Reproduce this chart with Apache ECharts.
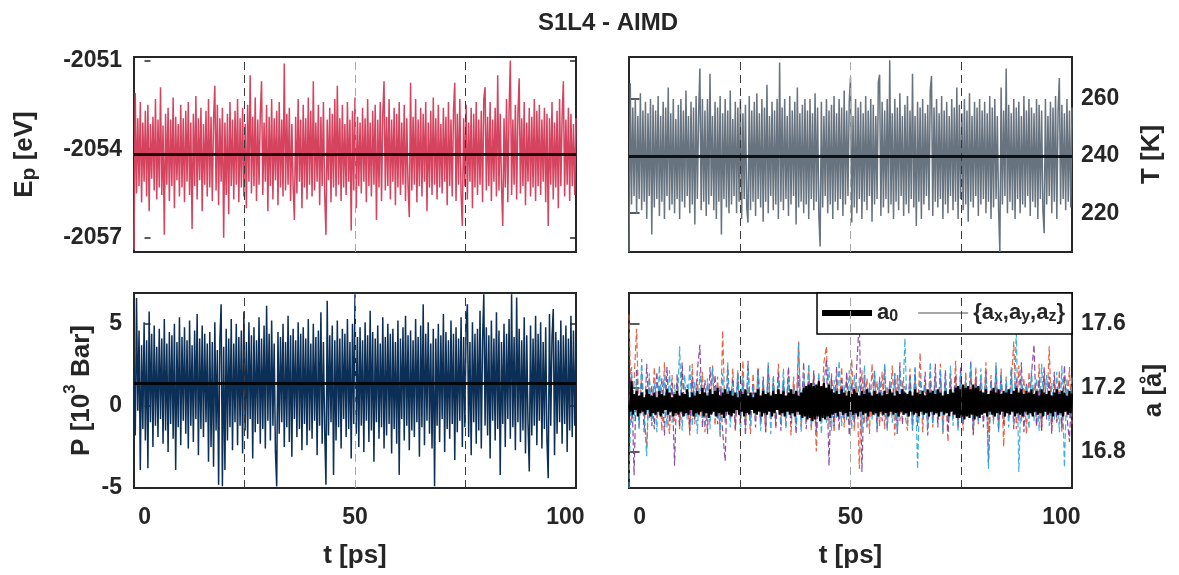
<!DOCTYPE html>
<html><head><meta charset="utf-8">
<script src="https://cdn.jsdelivr.net/npm/echarts@6/dist/echarts.min.js"></script>
<style>html,body{margin:0;padding:0;background:#fff}#c{width:1179px;height:575px}</style>
</head><body><div id="c"></div>
<script>
// ---------------- data ----------------
const chartTitle = 'S1L4 - AIMD';
const tStart = -2.5;          // first sample time [ps]
const fineStep = 0.3;         // sample spacing of Ep, T, P, a0 [ps]
const coarseStep = 0.6;       // sample spacing of ax, ay, az [ps]

const epValues = [
-2057.4,-2052.1,-2055.5,-2052.95,-2055.25,-2052.4,-2055.8,-2053.1,-2055.1,-2052.7,-2055.6,-2052.5,-2056.1,-2053.15,-2055.0,-2052.9,-2055.4,-2052.3,-2055.7,-2053.0,
-2055.3,-2051.9,-2055.55,-2053.2,-2056.9,-2052.8,-2055.2,-2052.6,-2055.75,-2053.0,-2055.25,-2052.25,-2056.0,-2052.9,-2055.05,-2053.15,-2055.6,-2052.5,-2055.3,-2052.95,
-2055.8,-2052.7,-2055.1,-2052.4,-2055.55,-2053.1,-2056.7,-2052.8,-2055.25,-2052.2,-2055.7,-2052.95,-2055.05,-2052.6,-2056.1,-2053.15,-2055.2,-2052.7,-2055.6,-2052.3,
-2055.3,-2052.9,-2055.75,-2053.0,-2051.85,-2055.4,-2052.5,-2055.9,-2052.95,-2055.1,-2052.6,-2057.0,-2053.1,-2055.55,-2052.8,-2056.2,-2052.4,-2055.25,-2053.0,-2055.7,
-2052.7,-2055.2,-2052.3,-2055.8,-2052.95,-2055.3,-2052.6,-2055.6,-2053.15,-2056.0,-2052.5,-2055.1,-2051.5,-2055.5,-2052.9,-2055.25,-2052.25,-2055.75,-2053.0,-2055.2,
-2052.8,-2051.7,-2055.55,-2053.1,-2055.1,-2052.5,-2056.1,-2052.9,-2055.25,-2052.3,-2055.7,-2052.95,-2055.05,-2052.7,-2055.9,-2052.4,-2055.3,-2053.0,-2055.6,-2051.1,
-2055.4,-2052.8,-2055.2,-2052.6,-2055.75,-2053.15,-2055.25,-2056.4,-2052.9,-2055.5,-2052.3,-2055.1,-2053.0,-2056.0,-2052.5,-2055.3,-2052.95,-2055.7,-2052.25,-2055.2,
-2052.7,-2055.6,-2051.7,-2055.4,-2053.1,-2055.1,-2052.5,-2055.9,-2052.9,-2055.25,-2052.4,-2055.55,-2056.9,-2053.0,-2055.05,-2052.6,-2055.8,-2052.8,-2055.3,-2052.3,
-2055.6,-2051.85,-2055.2,-2052.95,-2055.75,-2052.5,-2055.3,-2053.15,-2055.55,-2052.4,-2055.1,-2053.0,-2056.75,-2052.7,-2055.4,-2052.25,-2056.0,-2052.9,-2055.25,-2053.1,
-2055.5,-2052.6,-2055.1,-2052.95,-2055.8,-2052.3,-2055.25,-2053.1,-2055.6,-2052.7,-2055.2,-2052.5,-2056.4,-2053.0,-2055.3,-2052.4,-2055.75,-2052.8,-2051.7,-2055.4,
-2052.9,-2055.25,-2052.3,-2055.7,-2053.0,-2055.1,-2052.6,-2055.9,-2052.8,-2055.3,-2052.4,-2055.55,-2053.1,-2055.2,-2052.5,-2055.75,-2052.95,-2055.25,-2056.3,-2051.75,
-2055.4,-2052.9,-2055.2,-2052.3,-2055.8,-2053.0,-2055.25,-2052.6,-2055.6,-2052.8,-2055.1,-2052.4,-2056.1,-2053.1,-2055.3,-2052.7,-2055.55,-2052.25,-2055.2,-2052.95,
-2055.7,-2052.5,-2055.3,-2053.15,-2055.5,-2052.6,-2055.1,-2052.9,-2055.9,-2052.4,-2055.25,-2053.0,-2055.6,-2052.7,-2051.75,-2055.75,-2052.8,-2055.2,-2052.3,-2055.55,
-2056.6,-2052.95,-2055.25,-2052.5,-2055.7,-2053.1,-2055.1,-2052.6,-2056.0,-2052.8,-2055.3,-2052.4,-2055.55,-2053.0,-2055.2,-2052.7,-2055.8,-2052.3,-2051.9,-2055.4,
-2052.9,-2055.25,-2052.4,-2055.75,-2053.0,-2055.1,-2052.6,-2055.6,-2051.5,-2055.4,-2052.8,-2055.2,-2056.6,-2052.95,-2055.3,-2052.3,-2055.8,-2052.7,-2051.0,-2055.55,
-2053.0,-2055.2,-2052.5,-2055.7,-2052.8,-2051.6,-2055.5,-2052.95,-2055.25,-2052.4,-2055.9,-2053.1,-2055.1,-2052.6,-2055.6,-2052.9,-2055.3,-2052.3,-2055.75,-2052.7,
-2055.25,-2052.5,-2055.55,-2053.0,-2055.1,-2052.6,-2055.8,-2052.8,-2056.6,-2052.95,-2055.2,-2052.4,-2055.7,-2053.1,-2055.3,-2052.7,-2056.0,-2052.3,-2055.25,-2052.9,
-2051.7,-2055.6,-2053.0,-2055.2,-2052.6,-2055.75,-2052.8,-2055.25,-2053.15,-2055.55,-2052.95];

const tempValues = [
206.5,265.5,223,257,226,260,220,254,225,262,221,256,224,259,218,255,226,260,212.5,258,
222,256,225,261,219,254,224,259,218,257,226,264,221,255,223,260,220,253,225,258,
218,260,224,256,222,263,226,254,220,259,223,257,216,261,225,255,270.7,221,260,224,
256,219,260,223,268.8,226,254,221,259,218,257,224,261,212.5,255,225,260,222,256,220,
263,223,253,226,259,220,257,224,260,218,255,225,258,222,216.7,261,221,256,224,259,
219,262,225,255,222,260,217,257,224,265,220,254,226,259,221,256,223,260,218,272.8,
224,257,221,260,225,254,219,261,223,256,226,259,216,264,222,255,224,258,220,260,
223,256,218,260,225,255,221,262,224,257,219,208.3,259,222,254,226,260,220,256,223,
258,218,261,224,255,221,260,225,257,219,263,223,256,226,259,267.6,216.7,254,222,260,
220,257,225,259,218,255,224,261,221,256,226,260,217,258,223,254,225,266,268.5,219,
259,222,256,225,260,220,273.6,223,255,218,260,224,257,221,262,226,254,219,258,223,
261,220,256,225,268.8,222,254,215.5,259,224,257,218,260,223,255,226,258,221,263,268.0,
219,257,224,260,222,255,225,261,218,256,223,259,220,254,226,260,221,257,224,264,
218,258,225,255,221,260,223,256,217,262,224,254,222,259,226,257,219,260,223,256,
225,259,220,255,224,261,218,257,222,260,225,254,221,206.5,264,223,256,226,270.7,220,
258,224,255,221,260,218,257,225,259,220,254,223,261,222,256,226,260,219,257,224,
255,222,260,218,258,225,256,221,213,260,223,254,226,259,220,257,224,261,218,256,
267.3,223,258,225,255,221,260,224,256,222,257];

const pressValues = [
2.4,-1.8,6.57,-0.3,4.6,-3.9,3.7,-1.4,5.1,-2.1,4.0,-3.8,5.75,-1.0,4.4,-2.5,4.9,-1.2,3.6,-1.9,
4.7,-0.8,4.1,-2.3,5.3,-1.5,3.8,-2.8,4.5,-1.1,4.3,-2.0,5.0,-3.9,3.9,-1.3,5.4,-2.4,4.2,-0.9,
4.8,-1.7,4.0,-2.6,5.2,-1.2,3.7,-2.2,4.6,-0.8,5.6,-3.0,4.1,-1.4,4.9,-1.9,4.4,-1.0,3.8,-3.4,
4.5,-2.5,3.9,-3.7,5.1,-1.5,3.4,-4.8,4.0,6.2,-4.9,3.6,-3.9,4.7,-2.1,4.1,-1.3,5.3,-2.7,3.8,
-1.0,5.0,-2.4,4.2,-1.2,4.6,-2.9,5.75,-1.5,3.9,-2.0,5.1,-0.8,4.3,-3.2,4.8,-1.6,4.0,-1.1,5.4,
-2.3,4.1,-1.4,4.9,-2.6,6.1,-0.9,4.4,-2.1,5.2,-1.2,3.8,-2.8,-4.9,4.5,-1.7,4.2,-1.0,5.0,-2.5,
3.9,-1.3,5.5,-2.2,4.3,-3.1,4.7,-0.8,4.0,-1.9,5.1,-1.4,4.4,-2.7,4.8,-1.1,4.1,-2.4,5.3,-1.5,
3.8,-2.0,5.0,-0.9,4.2,-3.0,4.6,-1.2,5.7,-2.3,3.9,-1.5,-4.8,6.4,-1.8,4.3,-1.0,4.9,-4.2,4.0,
-2.1,5.2,-1.3,4.1,-2.6,4.7,-0.8,4.4,-1.9,5.3,-1.4,3.9,-3.2,5.0,-1.1,6.8,-1.7,4.2,-2.5,4.8,
-1.2,4.0,-2.8,5.1,-0.9,4.3,-2.2,5.8,-1.5,4.5,-3.4,4.1,-1.0,4.9,-2.0,3.8,-1.3,5.4,-2.6,4.2,
-1.8,5.0,-1.1,4.4,-2.9,4.7,-1.4,3.9,-2.3,5.2,-4.2,4.1,-0.8,4.8,-2.1,5.5,-1.2,4.3,-2.7,4.6,
-1.5,4.0,-1.9,5.3,-1.0,4.2,-3.1,4.9,-1.3,6.2,-2.4,4.4,-0.9,5.1,-1.7,3.8,-2.6,4.7,-4.9,4.1,
-1.2,5.0,-2.2,4.3,-0.8,5.6,-2.8,4.5,-1.4,4.0,-2.0,5.2,-1.1,4.4,-3.3,4.8,-1.6,4.1,-0.9,5.4,
-2.5,4.2,-1.3,4.9,6.2,-1.9,3.9,-3.0,5.1,-1.0,4.4,-2.3,4.7,-1.5,5.8,-2.6,4.0,6.8,-1.2,4.8,
-1.8,4.3,-3.2,5.2,-0.9,4.1,-2.1,5.7,-1.4,4.6,-4.2,3.9,-1.1,5.0,-2.5,4.4,-0.8,5.3,-2.0,6.8,
-1.3,4.2,-2.7,6.6,-1.0,4.7,-2.2,4.0,-1.5,5.4,-2.9,4.3,-1.1,-4.0,4.9,-1.8,4.1,-1.2,5.5,-2.4,
4.4,-0.9,5.1,-2.6,3.9,-1.4,4.8,-2.1,-4.4,5.6,-1.2,4.2,5.9,-3.0,4.5,-1.7,4.0,-1.0,5.2,-2.3,
4.3,-1.1,4.9,-2.8,4.1,-1.5,5.5,-1.9,4.6,-1.2,4.0];

const a0Values = [
17.09,17.05,17.24,17.03,17.16,17.06,17.18,17.02,17.15,17.04,17.17,17.05,17.14,17.03,17.19,17.06,17.16,17.02,17.15,17.04,
17.17,17.03,17.14,17.05,17.18,17.02,17.16,17.04,17.15,17.06,17.19,17.03,17.17,17.05,17.14,17.02,17.16,17.04,17.18,17.03,
17.15,17.05,17.17,17.02,17.16,17.04,17.19,17.03,17.14,17.06,17.17,17.02,17.15,17.04,17.18,17.03,17.16,17.05,17.20,17.02,
17.17,17.04,17.15,17.01,17.19,17.03,17.16,17.05,17.18,17.02,17.20,17.04,17.15,17.03,17.17,17.01,17.19,17.05,17.16,17.03,
17.18,17.02,17.15,17.04,17.17,17.06,17.14,17.03,17.18,17.05,17.16,17.02,17.19,17.04,17.15,17.03,17.17,17.06,17.14,17.04,
17.17,17.03,17.19,17.05,17.15,17.02,17.18,17.04,17.16,17.03,17.17,17.05,17.15,17.02,17.18,17.04,17.16,17.06,17.19,17.03,
17.16,17.04,17.18,17.02,17.15,17.05,17.17,17.03,17.19,17.04,17.16,17.02,17.18,17.05,17.15,17.03,17.17,17.01,17.20,17.02,
17.21,17.00,17.22,17.01,17.23,16.99,17.21,17.00,17.22,17.02,17.24,16.99,17.21,17.01,17.23,17.00,17.20,17.02,17.22,17.01,
17.19,17.03,17.17,17.04,17.18,17.02,17.16,17.05,17.19,17.03,17.17,17.04,17.15,17.02,17.18,17.05,17.16,17.03,17.19,17.04,
17.17,17.02,17.15,17.05,17.18,17.03,17.16,17.04,17.19,17.02,17.17,17.05,17.15,17.03,17.18,17.04,17.16,17.02,17.17,17.05,
17.15,17.03,17.18,17.04,17.16,17.02,17.19,17.05,17.17,17.03,17.15,17.04,17.18,17.02,17.16,17.05,17.19,17.03,17.17,17.04,
17.16,17.02,17.18,17.05,17.15,17.03,17.19,17.04,17.17,17.02,17.16,17.05,17.18,17.03,17.15,17.04,17.19,17.02,17.17,17.05,
17.18,17.03,17.16,17.04,17.19,17.02,17.17,17.05,17.15,17.03,17.18,17.04,17.16,17.02,17.19,17.05,17.17,17.03,17.20,17.01,
17.21,17.01,17.19,17.02,17.22,17.00,17.20,17.02,17.21,17.01,17.19,17.03,17.22,17.00,17.20,17.02,17.21,17.01,17.18,17.03,
17.17,17.04,17.19,17.02,17.16,17.05,17.18,17.03,17.20,17.02,17.17,17.04,17.19,17.03,17.16,17.05,17.18,17.02,17.17,17.04,
17.19,17.03,17.16,17.05,17.18,17.02,17.20,17.04,17.17,17.03,17.19,17.02,17.16,17.05,17.18,17.03,17.17,17.04,17.19,17.02,
17.16,17.05,17.18,17.03,17.15,17.04,17.19,17.02,17.17,17.05,17.16,17.03,17.18,17.04,17.15,17.02,17.17,17.05,17.19,17.03,
17.16,17.04,17.18,17.02,17.17,17.05,17.15,17.03,17.18,17.04,17.16];

const axValues = [
17.66,16.98,17.24,17.57,16.95,17.30,17.02,16.83,17.27,16.96,
17.33,17.01,17.21,16.93,17.36,17.04,16.91,17.28,16.99,17.24,
16.94,17.31,17.03,17.19,16.90,17.35,16.97,17.26,17.02,17.30,
16.92,17.23,17.05,17.34,16.96,17.27,16.89,17.56,16.98,17.22,
17.01,17.32,16.93,17.25,17.04,17.37,16.95,17.21,16.91,17.29,
17.03,17.33,16.97,17.24,16.92,17.30,17.00,17.26,16.94,17.35,
17.02,17.22,16.96,17.31,16.90,17.27,17.04,17.49,16.95,17.23,
17.01,17.34,16.93,17.28,16.80,17.25,17.03,17.36,17.46,16.97,
17.29,16.92,17.24,17.05,17.33,16.95,17.27,17.00,17.38,16.93,
17.22,16.69,17.31,16.98,17.26,16.91,17.35,17.02,17.24,16.96,
17.30,16.94,17.21,17.03,17.34,16.90,17.28,16.99,17.25,17.04,
16.93,17.32,16.97,17.27,17.01,17.42,16.92,17.23,17.05,17.31,
16.95,17.26,16.98,17.35,16.91,17.22,16.86,17.29,17.02,17.37,
16.96,17.24,16.93,17.30,17.03,17.27,16.90,17.33,16.97,17.21,
17.04,17.36,16.92,17.28,16.99,17.25,16.95,17.32,16.83,17.27,
17.01,17.23,17.49,16.94,17.34,16.98,17.26,16.91,17.30,17.03,
17.22,16.96,17.35,16.93,17.28,17.02,17.46,16.95,17.24,16.99,
17.31,16.92,17.27,17.04,17.33,16.97];

const ayValues = [
17.12,17.28,16.65,17.32,16.97,17.24,16.92,17.35,17.01,17.21,
16.94,17.30,17.03,17.26,16.90,17.33,16.98,17.23,16.71,17.29,
16.96,17.36,17.02,17.22,16.93,17.27,17.00,17.31,17.47,16.95,
17.25,16.91,17.33,17.04,17.28,16.97,17.21,16.92,16.74,17.34,
17.01,17.26,16.94,17.30,16.99,17.24,16.90,17.37,17.03,17.22,
16.95,17.32,16.98,17.27,16.92,17.35,17.02,17.23,16.96,17.29,
16.93,17.25,17.04,17.33,16.97,17.21,16.91,17.28,17.00,17.36,
16.94,17.24,16.99,17.31,16.92,17.26,17.03,17.22,17.38,16.71,
17.27,16.96,17.33,16.93,17.25,17.01,17.30,16.90,17.23,16.98,
17.35,17.63,16.67,17.28,16.95,17.22,17.02,17.31,16.92,17.26,
16.99,17.34,16.94,17.24,17.03,17.29,16.91,17.36,16.97,17.21,
17.01,17.27,16.93,17.32,16.96,17.25,17.04,17.30,16.90,17.23,
16.98,17.35,16.95,17.26,17.02,17.31,16.92,17.24,17.00,17.28,
16.94,17.33,16.97,17.22,17.03,17.37,16.91,17.27,16.99,17.25,
16.95,17.30,16.73,17.24,17.01,17.34,16.93,17.28,16.97,17.22,
17.02,17.32,16.94,17.26,16.99,17.36,16.92,17.23,17.04,17.29,
17.47,16.96,17.25,16.93,17.33,17.00,17.27,16.91,17.30,16.98,
17.24,16.95,17.34,17.02,16.86,17.28];

const azValues = [
16.57,17.33,16.99,17.25,16.94,17.38,17.02,16.77,17.29,16.96,
17.23,16.92,17.34,17.01,17.27,16.95,17.31,16.98,17.22,17.04,
17.46,16.93,17.28,17.00,17.35,16.96,17.24,16.91,17.30,17.03,
16.97,17.26,16.94,17.33,17.02,17.21,16.90,17.29,16.99,17.36,
16.95,17.23,17.04,17.31,16.92,17.27,17.00,17.34,16.96,17.22,
17.01,17.30,16.93,17.25,16.98,17.36,16.91,17.28,17.03,17.24,
16.97,17.32,16.94,17.26,17.02,17.21,16.96,17.49,16.92,17.29,
17.00,17.35,16.95,17.23,17.04,17.30,16.91,17.27,16.98,17.33,
16.93,17.25,17.01,17.37,16.96,17.22,16.99,17.31,16.94,17.28,
17.03,17.26,16.92,17.34,16.97,17.23,17.00,17.30,16.95,17.27,
17.02,17.35,16.93,17.24,16.98,17.29,16.91,17.32,17.04,17.51,
16.96,17.26,16.94,17.33,16.69,17.28,17.01,17.22,16.95,17.36,
16.97,17.25,17.03,17.31,16.92,17.27,17.00,17.34,16.96,17.23,
16.93,17.30,16.98,17.26,17.02,17.35,16.94,17.21,16.99,17.32,
17.04,17.28,16.69,17.24,16.97,17.36,16.92,17.29,17.01,17.25,
16.95,17.33,16.98,17.57,16.67,17.27,17.03,17.22,16.94,17.31,
16.99,17.26,16.93,17.35,17.02,17.28,16.96,17.23,17.00,17.30,
16.92,17.34,16.70,17.26,17.01,17.28];

const epMean = -2054.18;
const tempMean = 240;
const pressMean = 1.38;

const timeRange = [-2.5, 102.5];
const timeTicks = [0, 50, 100];
const timeGridLines = [23.75, 50, 76.25];
const epRange = [-2057.48, -2050.88];
const epTicks = [-2057, -2054, -2051];
const tempRange = [206.4, 274.7];
const tempTicks = [220, 240, 260];
const pressRange = [-5, 6.88];
const pressTicks = [-5, 0, 5];
const latRange = [16.57, 17.795];
const latTicks = [16.8, 17.2, 17.6];

// ---------------- chart ----------------
const FONT = '"Liberation Sans", Arial, Helvetica, sans-serif';
const INK = '#262626';
const toPairs = (vals, step) => vals.map((v, i) => [Math.round((tStart + i * step) * 1000) / 1000, v]);

const grids = [
  {left: 134, top: 57, width: 442, height: 195},
  {left: 629, top: 57, width: 443, height: 195},
  {left: 134, top: 293, width: 442, height: 195},
  {left: 629, top: 293, width: 443, height: 195}
].map(g => Object.assign(g, {show: true, borderColor: INK, borderWidth: 2, backgroundColor: '#fff',
  containLabel: false, outerBoundsMode: 'none'}));

const tickFont = {fontFamily: FONT, fontWeight: 'bold', fontSize: 23, color: INK};
const nameFont = {fontFamily: FONT, fontWeight: 'bold', fontSize: 26, color: INK};

function xAxisFor(gi, bottom) {
  return {
    type: 'value', gridIndex: gi, min: timeRange[0], max: timeRange[1],
    axisLine: {show: false}, axisTick: {show: false}, splitLine: {show: false},
    axisLabel: bottom ? Object.assign({show: true, customValues: timeTicks, margin: 18,
      formatter: v => String(v)}, tickFont) : {show: false},
    name: bottom ? 't [ps]' : '', nameLocation: 'middle', nameGap: 55,
    nameTextStyle: nameFont, nameMoveOverlap: false
  };
}
function yAxisFor(gi, range, ticks, side, labelled, name, gap, rich) {
  const ax = {
    type: 'value', gridIndex: gi, min: range[0], max: range[1], position: side,
    axisLine: {show: false}, splitLine: {show: false},
    axisTick: {show: true, inside: true, length: 6, customValues: ticks, lineStyle: {color: INK, width: 1.5}},
    axisLabel: labelled ? Object.assign({show: true, customValues: ticks, margin: side === 'left' ? 12 : 9,
      formatter: v => String(v)}, tickFont) : {show: false}
  };
  if (name) {
    ax.name = name; ax.nameLocation = 'middle'; ax.nameRotate = 90; ax.nameGap = gap;
    ax.nameMoveOverlap = false;
    ax.nameTextStyle = Object.assign({}, nameFont, rich ? {rich: rich} : {});
  }
  return ax;
}

const mText = Object.assign({}, nameFont, {lineHeight: 30});
const richEp = {m: mText, s: Object.assign({}, nameFont, {fontSize: 21, lineHeight: 4, verticalAlign: 'bottom'})};
const richP = {m: Object.assign({}, nameFont, {lineHeight: 40}),
  u: Object.assign({}, nameFont, {fontSize: 17, lineHeight: 8, verticalAlign: 'top'})};
const richA = {m: mText};

function gridLineMarks(extra) {
  const d = timeGridLines.map(t => ({xAxis: t, lineStyle: {color: t === 50 ? '#a8a8a8' : '#3a3a3a', type: [8, 5], width: 1}}));
  if (extra !== undefined) d.push({yAxis: extra, lineStyle: {color: 'rgba(0,0,0,0.85)', width: 3, type: 'solid'}});
  return {symbol: ['none', 'none'], silent: true, label: {show: false}, animation: false, data: d};
}

const lineSeries = (name, xi, yi, data, color, width, extra) => Object.assign({
  name: name, type: 'line', xAxisIndex: xi, yAxisIndex: yi, data: data,
  symbol: 'none', showSymbol: false, animation: false, silent: true,
  lineStyle: {color: color, width: width}, itemStyle: {color: color}
}, extra || {});
const compStyle = c => ({lineStyle: {color: c, width: 1.2, type: [6, 3], opacity: 0.9}});

const legendRich = {
  m: {fontFamily: FONT, fontWeight: 'bold', fontSize: 22, color: INK, lineHeight: 24},
  s: {fontFamily: FONT, fontWeight: 'bold', fontSize: 16, color: INK, lineHeight: 2, verticalAlign: 'bottom'}
};

const option = {
  animation: false,
  backgroundColor: '#fff',
  title: {text: chartTitle, left: 533, top: 6,
    textStyle: {fontFamily: FONT, fontWeight: 'bold', fontSize: 24, color: INK}},
  grid: grids,
  legend: {
    show: true, right: 107, top: 293, orient: 'horizontal', selectedMode: false,
    backgroundColor: '#fff', borderColor: '#000', borderWidth: 1.5, borderRadius: 0,
    padding: [9, 7, 9, 5], itemGap: 20, itemWidth: 50, itemHeight: 6,
    data: [
      {name: 'a0', icon: 'path://M0,0 L50,0 L50,6 L0,6 Z', itemStyle: {color: '#000'}},
      {name: '{ax,ay,az}', icon: 'path://M0,0 L0.05,0 L0.05,0.05 Z M0,2.25 L50,2.25 L50,3.75 L0,3.75 Z M0,5.95 L0.05,6 L0,6 Z',
        itemStyle: {color: '#8a8a8a'}}
    ],
    formatter: n => n === 'a0' ? '{m|a}{s|0}' : '{m|{a}{s|x}{m|,a}{s|y}{m|,a}{s|z}{m|\u007d}',
    textStyle: {fontFamily: FONT, fontWeight: 'bold', fontSize: 22, color: INK, rich: legendRich}
  },
  xAxis: [xAxisFor(0, false), xAxisFor(1, false), xAxisFor(2, true), xAxisFor(3, true)],
  yAxis: [
    yAxisFor(0, epRange, epTicks, 'left', true, '{m|E}{s|p}{m| [eV]}', 94, richEp),
    yAxisFor(0, epRange, epTicks, 'right', false),
    yAxisFor(1, tempRange, tempTicks, 'right', true, 'T [K]', 67),
    yAxisFor(1, tempRange, tempTicks, 'left', false),
    yAxisFor(2, pressRange, pressTicks, 'left', true, '{m|P [10}{u|3}{m| Bar]}', 32, richP),
    yAxisFor(2, pressRange, pressTicks, 'right', false),
    yAxisFor(3, latRange, latTicks, 'right', true, '{m|a [å]}', 67, richA),
    yAxisFor(3, latRange, latTicks, 'left', false)
  ],
  series: [
    lineSeries('Ep', 0, 0, toPairs(epValues, fineStep), '#d5435f', 1.5, {markLine: gridLineMarks(epMean)}),
    lineSeries('T', 1, 2, toPairs(tempValues, fineStep), '#67737f', 1.5, {markLine: gridLineMarks(tempMean)}),
    lineSeries('P', 2, 4, toPairs(pressValues, fineStep), '#0b2f56', 1.5, {markLine: gridLineMarks(pressMean)}),
    lineSeries('ax', 3, 6, toPairs(axValues, coarseStep), '#e4532f', 1.2, compStyle('#e4532f')),
    lineSeries('ay', 3, 6, toPairs(ayValues, coarseStep), '#7d3b98', 1.2, compStyle('#7d3b98')),
    lineSeries('az', 3, 6, toPairs(azValues, coarseStep), '#28a6dc', 1.2, compStyle('#28a6dc')),
    lineSeries('a0', 3, 6, toPairs(a0Values, fineStep), '#000000', 2.2, {markLine: gridLineMarks()}),
    lineSeries('{ax,ay,az}', 3, 6, [], '#8a8a8a', 1.5)
  ]
};

const chart = echarts.init(document.getElementById('c'), null, {renderer: 'canvas'});
chart.setOption(option);
</script>
</body></html>
